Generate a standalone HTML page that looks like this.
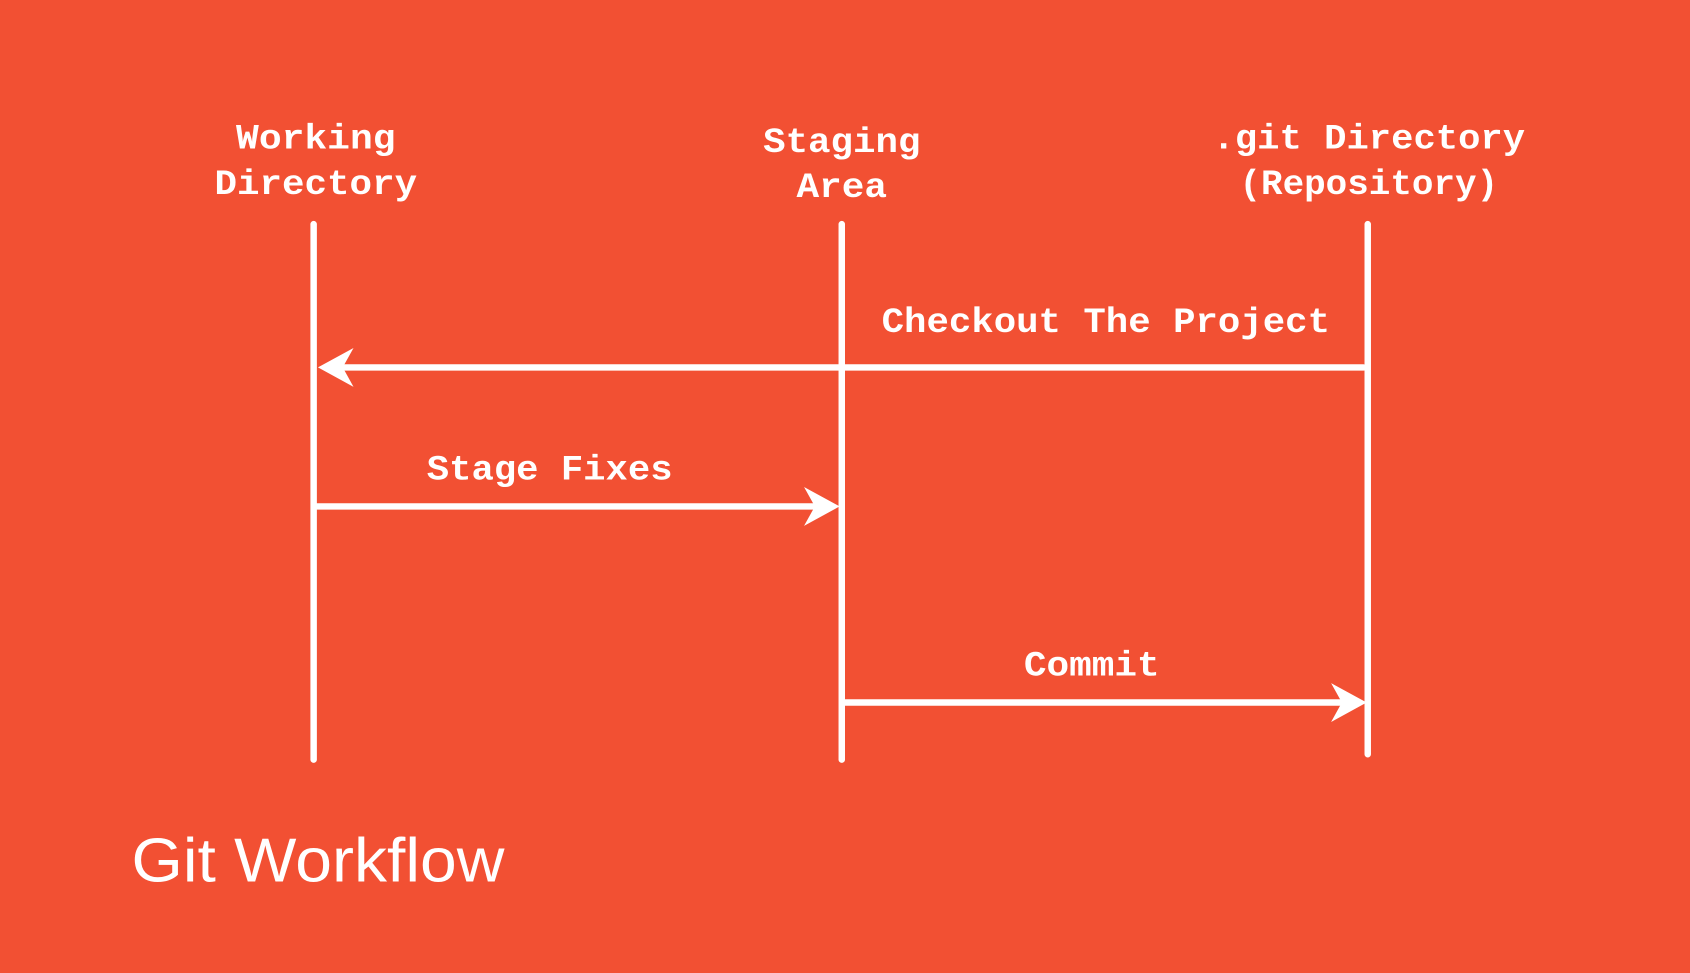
<!DOCTYPE html>
<html><head><meta charset="utf-8"><style>
html,body{margin:0;padding:0;background:#F25033;}
svg{display:block}
</style></head><body>
<svg width="1690" height="973" viewBox="0 0 1568 903" preserveAspectRatio="none" xmlns="http://www.w3.org/2000/svg">
<rect width="1568" height="903" fill="#F25033"/>
<g fill="#fff" font-family="Liberation Mono, monospace" font-weight="bold" font-size="33" text-anchor="middle">
<text x="293" y="138" textLength="148" lengthAdjust="spacingAndGlyphs">Working</text>
<text x="293" y="180" textLength="188" lengthAdjust="spacingAndGlyphs">Directory</text>
<text x="781" y="141" textLength="146" lengthAdjust="spacingAndGlyphs">Staging</text>
<text x="781" y="183" textLength="84" lengthAdjust="spacingAndGlyphs">Area</text>
<text x="1270" y="138" textLength="290" lengthAdjust="spacingAndGlyphs">.git Directory</text>
<text x="1270" y="180" textLength="240" lengthAdjust="spacingAndGlyphs">(Repository)</text>
<text x="1026" y="308" textLength="416" lengthAdjust="spacingAndGlyphs">Checkout The Project</text>
<text x="510" y="445" textLength="228" lengthAdjust="spacingAndGlyphs">Stage Fixes</text>
<text x="1013" y="627" textLength="126" lengthAdjust="spacingAndGlyphs">Commit</text>
</g>
<g stroke="#fff" stroke-width="6" stroke-linecap="round" fill="none">
<line x1="291" y1="208" x2="291" y2="705"/>
<line x1="781" y1="208" x2="781" y2="705"/>
<line x1="1269" y1="208" x2="1269" y2="700"/>
<line x1="1265" y1="341" x2="310" y2="341"/>
<line x1="293" y1="470" x2="760" y2="470"/>
<line x1="783" y1="652" x2="1250" y2="652"/>
</g>
<g fill="#fff">
<polygon points="295,341 328,323 318,341 328,359"/>
<polygon points="779,470 746,452 756,470 746,488"/>
<polygon points="1268,652 1235,634 1245,652 1235,670"/>
</g>
<text x="122" y="818" fill="#fff" font-family="Liberation Sans, sans-serif" font-size="58" textLength="346" lengthAdjust="spacingAndGlyphs">Git Workflow</text>
</svg>
</body></html>
